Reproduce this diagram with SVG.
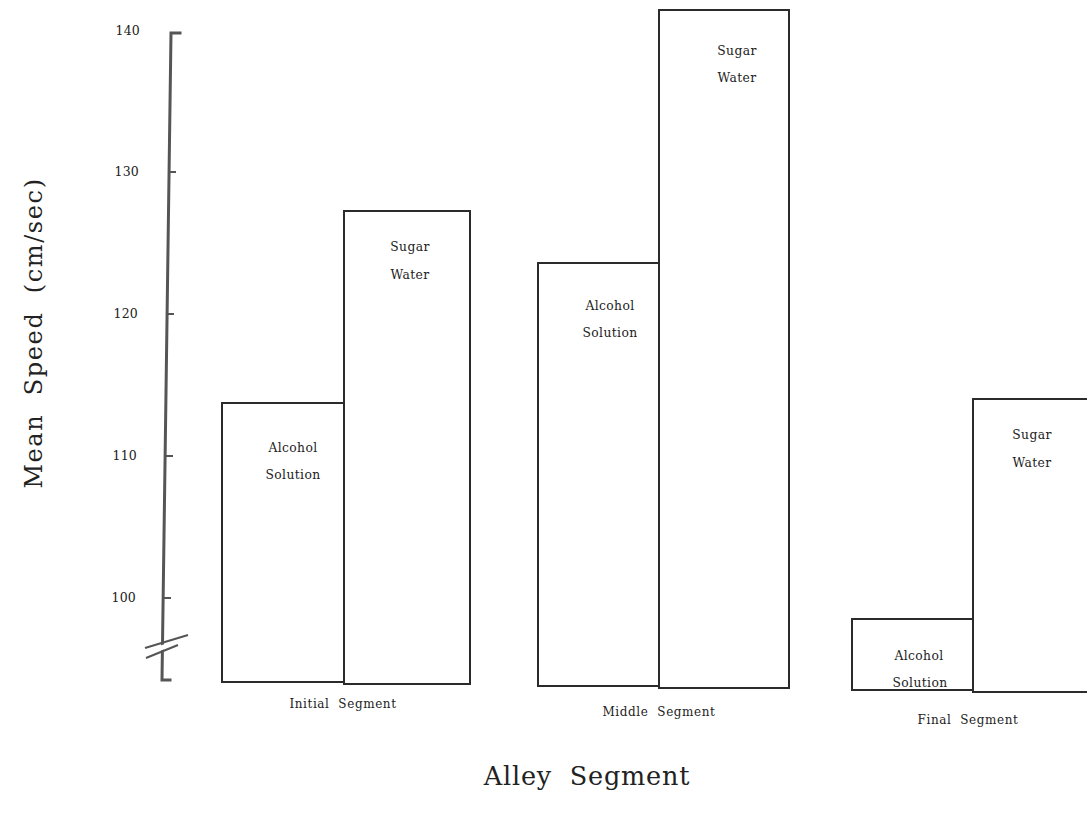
<svg xmlns="http://www.w3.org/2000/svg" width="1087" height="821" viewBox="0 0 1087 821">
<style>
.bar{fill:#fff;stroke:#2b2b2b;stroke-width:2}
.ax{stroke:#555;stroke-width:3;fill:none;stroke-linecap:square}
.tk{stroke:#555;stroke-width:2;fill:none}
.t{font-family:"DejaVu Serif","Liberation Serif",serif;fill:#222;white-space:pre}
.bl{font-size:12.3px;letter-spacing:0.4px;text-anchor:middle}
.yl{font-size:12.5px;letter-spacing:0.2px;text-anchor:end}
.sl{font-size:12px;letter-spacing:0.6px;text-anchor:middle}
</style>
<rect width="1087" height="821" fill="#fff"/>
<g id="axis">
<path class="ax" d="M180,33 L171,33 L162,680 L170,680"/>
<path class="tk" d="M168,172 L176,172 M166,314 L174,314 M165,456 L173,456 M163,598 L171,598"/>
<line x1="150" y1="652" x2="180" y2="641" stroke="#fff" stroke-width="5"/>
<path class="tk" d="M145,648 L188,635 M146,658 L178,645" stroke="#333"/>
<text class="t yl" x="140" y="35">140</text>
<text class="t yl" x="139" y="176">130</text>
<text class="t yl" x="138" y="318">120</text>
<text class="t yl" x="137" y="460">110</text>
<text class="t yl" x="136" y="602">100</text>
<text class="t" font-size="24" letter-spacing="1.6" text-anchor="middle" xml:space="preserve" transform="translate(42,333) rotate(-90)">Mean  Speed  (cm/sec)</text>
</g>
<g id="initial">
<rect class="bar" x="222" y="403" width="122" height="279"/>
<rect class="bar" x="344" y="211" width="126" height="473"/>
<text class="t bl" x="293" y="452">Alcohol</text>
<text class="t bl" x="293" y="479">Solution</text>
<text class="t bl" x="410" y="251">Sugar</text>
<text class="t bl" x="410" y="279">Water</text>
<text class="t sl" x="343" y="708" xml:space="preserve">Initial  Segment</text>
</g>
<g id="middle">
<rect class="bar" x="538" y="263" width="121" height="423"/>
<rect class="bar" x="659" y="10" width="130" height="678"/>
<text class="t bl" x="610" y="310">Alcohol</text>
<text class="t bl" x="610" y="337">Solution</text>
<text class="t bl" x="737" y="55">Sugar</text>
<text class="t bl" x="737" y="82">Water</text>
<text class="t sl" x="659" y="716" xml:space="preserve">Middle  Segment</text>
</g>
<g id="final">
<rect class="bar" x="852" y="619" width="121" height="71"/>
<rect class="bar" x="973" y="399" width="120" height="293"/>
<text class="t bl" x="919" y="660">Alcohol</text>
<text class="t bl" x="920" y="687">Solution</text>
<text class="t bl" x="1032" y="439">Sugar</text>
<text class="t bl" x="1032" y="467">Water</text>
<text class="t sl" x="968" y="724" xml:space="preserve">Final  Segment</text>
</g>
<g id="connectors"></g>
<text class="t" x="587" y="785" font-size="25.5" letter-spacing="0.8" text-anchor="middle" xml:space="preserve">Alley  Segment</text>
</svg>
